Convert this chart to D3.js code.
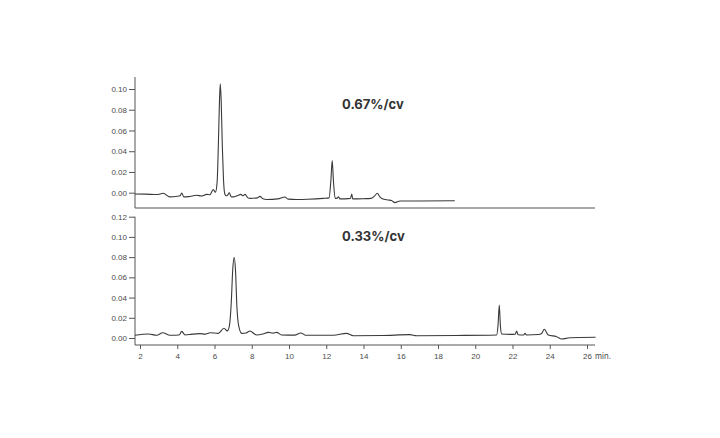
<!DOCTYPE html>
<html>
<head>
<meta charset="utf-8">
<script src="https://cdn.jsdelivr.net/npm/d3@7"></script>
<style>
  body { margin: 0; background: #fff; }
  svg { display: block; font-family: Inter, "Noto Sans", sans-serif; }
</style>
</head>
<body>
<div id="chart"></div>
<script>
// retention time (min) and absorbance
const topTime = [1.73, 2.3, 2.9, 3.25, 3.6, 4.0, 4.15, 4.24, 4.35, 4.6, 5.04, 5.3, 5.58, 5.75, 5.93, 6.05,
  6.14, 6.21, 6.27, 6.31, 6.36, 6.42, 6.48, 6.55, 6.62, 6.72, 6.79, 6.9, 7.01, 7.2, 7.42, 7.52, 7.64, 7.8,
  7.9, 8.3, 8.44, 8.6, 8.8, 9.4, 9.78, 9.95, 10.4, 11.0, 11.84, 12.15, 12.25, 12.32, 12.39, 12.48, 12.6,
  12.65, 12.74, 13.3, 13.37, 13.42, 14.0, 14.4, 14.6, 14.74, 14.88, 14.98, 15.33, 15.5, 15.69, 15.96, 17.0, 18.9];
const topSignal = [-0.0013, -0.0014, -0.0018, -0.0006, -0.004, -0.0035, -0.003, -0.0003, -0.004, -0.0038,
  -0.0025, -0.0032, -0.0016, -0.002, 0.003, 0.0005, 0.01, 0.048, 0.09, 0.105, 0.088, 0.045, 0.014, -0.001,
  -0.003, -0.002, 0.0, -0.004, -0.004, -0.003, -0.0016, -0.003, -0.0016, -0.005, -0.0055, -0.005, -0.0035,
  -0.0058, -0.0065, -0.006, -0.0042, -0.0062, -0.0065, -0.0063, -0.0055, -0.005, 0.012, 0.031, 0.010,
  -0.0055, -0.005, -0.004, -0.006, -0.0055, -0.0013, -0.006, -0.0058, -0.0055, -0.003, -0.0006, -0.004,
  -0.0055, -0.007, -0.0075, -0.0096, -0.008, -0.008, -0.0078];

const botTime = [1.73, 2.45, 2.9, 3.22, 3.61, 4.1, 4.24, 4.42, 4.8, 5.22, 5.5, 5.76, 6.2, 6.51, 6.69, 6.8,
  6.9, 6.98, 7.06, 7.13, 7.2, 7.3, 7.46, 7.7, 7.9, 8.26, 8.6, 8.89, 9.15, 9.34, 9.6, 10.3, 10.64, 10.9,
  12.38, 13.09, 13.45, 15.0, 16.49, 16.85, 19.0, 21.15, 21.22, 21.29, 21.35, 21.42, 21.86, 22.15, 22.22,
  22.3, 22.6, 22.67, 22.75, 23.4, 23.56, 23.71, 23.92, 24.37, 24.64, 25.08, 26.46];
const botSignal = [0.0027, 0.004, 0.0027, 0.0052, 0.0027, 0.003, 0.0066, 0.003, 0.0038, 0.0043, 0.0038,
  0.0052, 0.0046, 0.0096, 0.007, 0.012, 0.035, 0.068, 0.0798, 0.066, 0.032, 0.012, 0.0046, 0.005, 0.0069,
  0.003, 0.004, 0.0056, 0.0048, 0.0056, 0.003, 0.0028, 0.005, 0.0027, 0.0027, 0.0046, 0.0023, 0.0025,
  0.0033, 0.0023, 0.0025, 0.003, 0.012, 0.0326, 0.012, 0.004, 0.0036, 0.0038, 0.0069, 0.0032, 0.003,
  0.0046, 0.003, 0.0034, 0.0045, 0.0086, 0.003, 0.0013, -0.001, 0.0003, 0.0007];

const topTicks = [0.00, 0.02, 0.04, 0.06, 0.08, 0.10];
const botTicks = [0.00, 0.02, 0.04, 0.06, 0.08, 0.10, 0.12];
const timeTicks = [2, 4, 6, 8, 10, 12, 14, 16, 18, 20, 22, 24, 26];
const labels = ["0.67%/cv", "0.33%/cv"];

const W = 720, H = 438;
const left = 135, right = 595;

const svg = d3.select("#chart").append("svg")
  .attr("width", W)
  .attr("height", H);

const x = d3.scaleLinear().domain([2, 26]).range([140, 587]);
const yTop = d3.scaleLinear().domain([0, 0.10]).range([192.7, 89]);
const yBot = d3.scaleLinear().domain([0, 0.12]).range([338, 216.7]);

const fmt = d3.format(".2f");
const axisColor = "#555";

function styleAxis(g) {
  g.select(".domain").remove();
  g.selectAll(".tick line").attr("stroke", axisColor);
  g.selectAll(".tick text").attr("fill", "#4a4a4a").attr("font-size", 8);
}

// top panel
svg.append("g")
  .attr("transform", `translate(${left},0)`)
  .call(d3.axisLeft(yTop).tickValues(topTicks).tickFormat(fmt).tickSize(6).tickPadding(2))
  .call(styleAxis);
svg.append("line")
  .attr("x1", left).attr("x2", left).attr("y1", 77).attr("y2", 208)
  .attr("stroke", axisColor);
svg.append("line")
  .attr("x1", left).attr("x2", right).attr("y1", 208).attr("y2", 208)
  .attr("stroke", axisColor).attr("stroke-width", 1.2);

// bottom panel
svg.append("g")
  .attr("transform", `translate(${left},0)`)
  .call(d3.axisLeft(yBot).tickValues(botTicks).tickFormat(fmt).tickSize(6).tickPadding(2))
  .call(styleAxis);
svg.append("line")
  .attr("x1", left).attr("x2", left).attr("y1", yBot(0.12)).attr("y2", 345)
  .attr("stroke", axisColor);
svg.append("g")
  .attr("transform", "translate(0,345)")
  .call(d3.axisBottom(x).tickValues(timeTicks).tickFormat(d3.format("d")).tickSize(4).tickPadding(4))
  .call(styleAxis);
svg.append("line")
  .attr("x1", left).attr("x2", right).attr("y1", 345).attr("y2", 345)
  .attr("stroke", axisColor).attr("stroke-width", 1.2);
svg.append("text")
  .attr("x", x(26) + 8)
  .attr("y", 345 + 4 + 4)
  .attr("dy", "0.71em")
  .attr("font-size", 8)
  .attr("fill", "#4a4a4a")
  .text("min.");

// traces
const topData = topTime.map((t, i) => [t, topSignal[i]]);
const botData = botTime.map((t, i) => [t, botSignal[i]]);

const lineTop = d3.line().x(d => x(d[0])).y(d => yTop(d[1])).curve(d3.curveMonotoneX);
const lineBot = d3.line().x(d => x(d[0])).y(d => yBot(d[1])).curve(d3.curveMonotoneX);

svg.append("path").datum(topData)
  .attr("d", lineTop)
  .attr("fill", "none").attr("stroke", "#3a3a3a").attr("stroke-width", 1.1);
svg.append("path").datum(botData)
  .attr("d", lineBot)
  .attr("fill", "none").attr("stroke", "#3a3a3a").attr("stroke-width", 1.1);

// gradient labels
svg.selectAll(".cv").data(labels).enter()
  .append("text")
  .attr("class", "cv")
  .attr("x", 342)
  .attr("y", (d, i) => i === 0 ? 108.5 : 240.5)
  .attr("font-size", 13)
  .attr("font-weight", 700)
  .attr("fill", "#333")
  .text(d => d);
</script>
</body>
</html>
